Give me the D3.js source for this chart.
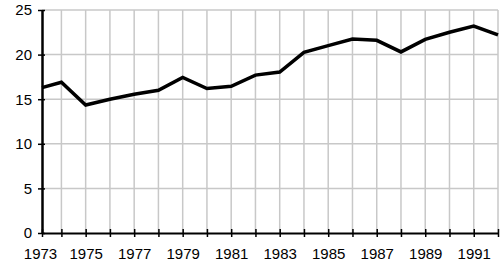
<!DOCTYPE html>
<html>
<head>
<meta charset="utf-8">
<script src="https://cdn.jsdelivr.net/npm/d3@7"></script>
<style>
  body { margin: 0; background: #fff; }
  text { font-family: "Liberation Sans", Arial, sans-serif; }
</style>
</head>
<body>
<script>
// first sample sits a little after Jan 1973, at the axis
const years = [1973.2, 1974, 1975, 1976, 1977, 1978, 1979, 1980, 1981, 1982, 1983,
  1984, 1985, 1986, 1987, 1988, 1989, 1990, 1991, 1992];
const values = [16.3, 16.9, 14.35, 15.0, 15.55, 16.0, 17.45, 16.2, 16.45, 17.7, 18.05,
  20.25, 21.0, 21.75, 21.6, 20.3, 21.7, 22.5, 23.2, 22.2];
const xTicks = [1973.2, 1974, 1975, 1976, 1977, 1978, 1979, 1980, 1981, 1982, 1983,
  1984, 1985, 1986, 1987, 1988, 1989, 1990, 1991, 1992];
const xLabels = ["1973", "", "1975", "", "1977", "", "1979", "", "1981", "", "1983",
  "", "1985", "", "1987", "", "1989", "", "1991", ""];
const yTicks = [0, 5, 10, 15, 20, 25];

const width = 500, height = 264;
const margin = { left: 42, right: 2, top: 10, bottom: 31 };

const svg = d3.select("body").append("svg").attr("width", width).attr("height", height);

const x = d3.scaleLinear().domain([1973.2, 1992]).range([margin.left, width - margin.right]);
const y = d3.scaleLinear().domain([0, 25]).range([height - margin.bottom, margin.top]);

// grid
svg.append("g")
  .selectAll("line")
  .data(xTicks.slice(1))
  .join("line")
  .attr("x1", d => x(d)).attr("x2", d => x(d))
  .attr("y1", y(0)).attr("y2", y(25))
  .attr("stroke", "#c8c8c8").attr("stroke-width", 1.5);

svg.append("g")
  .selectAll("line")
  .data(yTicks.slice(1))
  .join("line")
  .attr("x1", x(1973.2)).attr("x2", x(1992))
  .attr("y1", d => y(d)).attr("y2", d => y(d))
  .attr("stroke", "#c8c8c8").attr("stroke-width", 1.5);

// axes
const xAxis = svg.append("g")
  .attr("transform", `translate(0,${y(0)})`)
  .call(d3.axisBottom(x).tickValues(xTicks).tickSize(4).tickSizeOuter(0)
    .tickFormat((d, i) => xLabels[i]));
xAxis.select(".domain").attr("stroke-width", 2);
xAxis.selectAll(".tick line").attr("y1", -4).attr("stroke-width", 1.5);
xAxis.selectAll(".tick text").attr("font-size", 15).attr("fill", "#000").attr("dy", "1.27em");
xAxis.selectAll(".tick text").filter((d, i) => i === 0).attr("dx", -2);

const yAxis = svg.append("g")
  .attr("transform", `translate(${x(1973.2)},0)`)
  .call(d3.axisLeft(y).tickValues(yTicks).tickSize(4).tickSizeOuter(0));
yAxis.select(".domain").attr("stroke-width", 2.5);
yAxis.selectAll(".tick line").attr("x1", -4).attr("x2", 3).attr("stroke-width", 1.5);
yAxis.selectAll(".tick text").attr("font-size", 15).attr("fill", "#000").attr("x", -10);

// series
const line = d3.line().x((d, i) => x(years[i])).y(d => y(d));
svg.append("path")
  .datum(values)
  .attr("d", line)
  .attr("fill", "none")
  .attr("stroke", "#000")
  .attr("stroke-width", 3.5)
  .attr("stroke-linejoin", "miter");
</script>
</body>
</html>
